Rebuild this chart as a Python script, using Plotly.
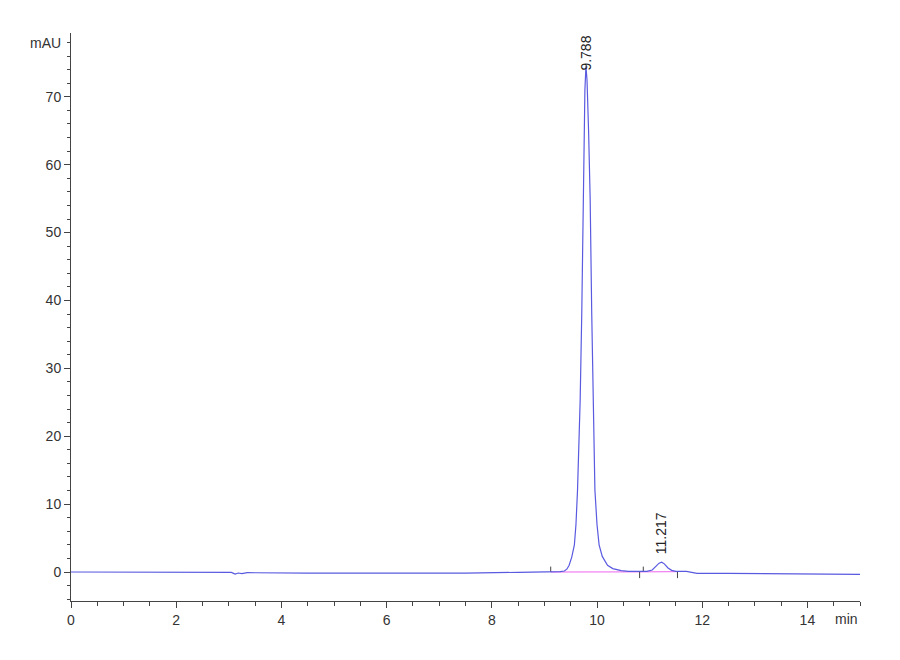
import plotly.graph_objects as go

# chromatogram signal (min, mAU)
time_min = [0.0, 0.8, 1.5, 2.5, 3.05, 3.12, 3.18, 3.25, 3.35, 4.5, 6.0, 7.5, 8.5, 9.0,
            9.2, 9.3, 9.38, 9.43, 9.47, 9.52, 9.57, 9.60, 9.63, 9.66, 9.68, 9.71, 9.73,
            9.75, 9.77, 9.79, 9.81, 9.84, 9.87, 9.90, 9.92, 9.94, 9.96, 10.00, 10.04,
            10.10, 10.20, 10.30, 10.46, 10.6, 10.8, 10.95, 11.05, 11.12, 11.18, 11.23,
            11.28, 11.35, 11.42, 11.5, 11.6, 11.7, 11.8, 11.9, 12.5, 13.0, 13.5, 14.0,
            14.5, 15.0]
signal_mau = [0.0, 0.0, -0.05, -0.05, -0.05, -0.3, -0.15, -0.25, -0.1, -0.15, -0.2, -0.15,
              -0.05, 0.0, 0.02, 0.05, 0.15, 0.45, 1.0, 2.2, 4.0, 7.0, 12.1, 18.5, 25.3, 38.0,
              50.0, 62.0, 71.0, 74.5, 72.5, 65.0, 55.0, 38.0, 27.0, 18.0, 12.1, 7.0, 4.0,
              2.3, 1.0, 0.5, 0.2, 0.1, 0.05, 0.1, 0.3, 0.8, 1.3, 1.45, 1.2, 0.6, 0.25, 0.1,
              0.08, 0.1, -0.05, -0.2, -0.2, -0.25, -0.25, -0.3, -0.3, -0.35]

# integration baseline segments
base_t = [9.12, 10.84, None, 10.84, 11.53]
base_y = [0.0, 0.02, None, 0.02, 0.05]

# peak start/end marks
mark_t = [9.12, 10.81, 10.88, 11.53]
mark_lo = [0.0, -0.9, 0.0, -0.9]
mark_hi = [0.8, 0.0, 0.8, 0.0]

peak_rt = [9.788, 11.217]
peak_h = [74.5, 1.45]
peak_lbl = ["9.788", "11.217"]

y_ticks = [0, 10, 20, 30, 40, 50, 60, 70]
x_ticks = [0, 2, 4, 6, 8, 10, 12, 14]

fig = go.Figure()

fig.add_trace(go.Scatter(x=base_t, y=base_y, mode="lines",
                         line=dict(color="#ee66ee", width=1), showlegend=False))

mx, my = [], []
for t, lo, hi in zip(mark_t, mark_lo, mark_hi):
    mx += [t, t, None]
    my += [lo, hi, None]
fig.add_trace(go.Scatter(x=mx, y=my, mode="lines",
                         line=dict(color="#444444", width=1), showlegend=False))

fig.add_trace(go.Scatter(x=time_min, y=signal_mau, mode="lines",
                         line=dict(color="#5a5ae0", width=1.2), showlegend=False))

for rt, h, lbl in zip(peak_rt, peak_h, peak_lbl):
    fig.add_annotation(x=rt, y=h, text=lbl, textangle=-90, showarrow=False,
                       yanchor="bottom", yshift=-6 if h > 10 else 6,
                       font=dict(size=14, color="#222222"))

fig.add_annotation(x=15, y=-4.27, yref="y", text="min", showarrow=False,
                   xanchor="right", yanchor="top", yshift=-8,
                   font=dict(size=14, color="#333333"))
fig.add_annotation(x=0, y=78, text="mAU", showarrow=False, xanchor="right",
                   xshift=-8, font=dict(size=14, color="#333333"))

fig.update_xaxes(range=[0, 15], tickvals=x_ticks, ticks="outside", ticklen=6,
                 tickcolor="#444", showline=True, linecolor="#444", linewidth=1,
                 showgrid=False, zeroline=False,
                 minor=dict(dtick=0.5, ticks="outside", ticklen=4, tickcolor="#444"),
                 tickfont=dict(size=14, color="#333333"))
fig.update_yaxes(range=[-4.27, 79.4], tickvals=y_ticks, ticks="outside", ticklen=6,
                 tickcolor="#444", showline=True, linecolor="#444", linewidth=1,
                 showgrid=False, zeroline=False,
                 minor=dict(dtick=2, ticks="outside", ticklen=3, tickcolor="#444"),
                 tickfont=dict(size=14, color="#333333"))

# page body adds 8px, so margins are offset to land the axes where the original has them
fig.update_layout(width=900, height=660, plot_bgcolor="white", paper_bgcolor="white",
                  margin=dict(l=63, r=48, t=25, b=67),
                  font=dict(family="Liberation Sans Narrow, Liberation Sans, Arial, sans-serif"))

fig.write_html("out.html")
